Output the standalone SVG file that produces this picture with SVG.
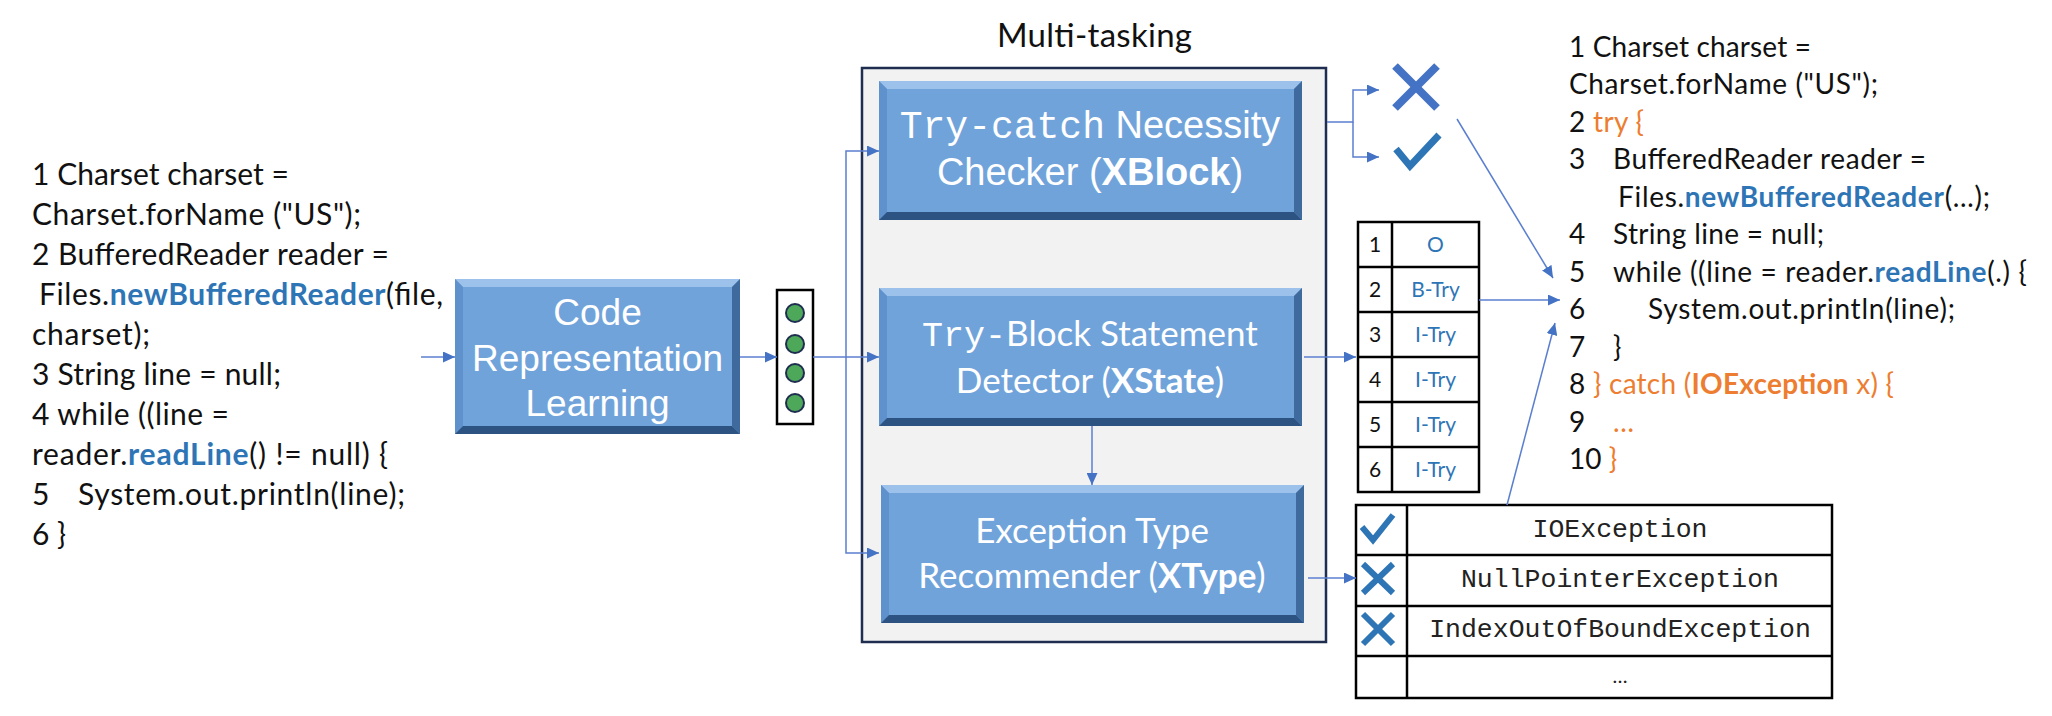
<svg xmlns="http://www.w3.org/2000/svg" width="2052" height="716" viewBox="0 0 2052 716">
<style>
.code{font-family:Lato,"Open Sans",sans-serif;font-size:30px;fill:#111}
.rcode{font-family:Lato,"Open Sans",sans-serif;font-size:28px;fill:#111}
.b{font-weight:bold;fill:#2E75B6}
.o{fill:#ED7D31}
.ob{fill:#ED7D31;font-weight:bold}
.face{fill:#71A3DB}
.bt{fill:#9CC2EC}
.bl{fill:#5F92CC}
.br{fill:#3E6A9E}
.bb{fill:#2C5382}
.bx{font-family:"Liberation Sans",Arial,sans-serif;font-size:37px;fill:#fff;text-anchor:middle}
.bxc{font-family:Lato,"Open Sans",sans-serif;font-size:35px;fill:#fff;text-anchor:middle}
.mono{font-family:"Liberation Mono","Courier New",monospace}
.conn{fill:none;stroke:#5B7FCF;stroke-width:1.5}
.tb{fill:#fff;stroke:#000;stroke-width:2.5}
.tl{stroke:#000;stroke-width:2.5}
.num{font-family:Lato,sans-serif;font-size:21px;fill:#111;text-anchor:middle}
.lab{font-family:Lato,sans-serif;font-size:21px;fill:#2E75B6;text-anchor:middle}
.exc{font-family:"Liberation Mono","Courier New",monospace;font-size:26.5px;fill:#222;text-anchor:middle}
.xm{stroke:#4472C4;stroke-width:8;fill:none}
.ck{stroke:#2E75B6;stroke-width:7;fill:none}
</style>
<defs>
<marker id="ah" markerUnits="userSpaceOnUse" markerWidth="12" markerHeight="11" refX="12" refY="5.5" orient="auto">
<path d="M0,0 L12,5.5 L0,11 z" fill="#4472C4"/>
</marker>
</defs>
<rect width="2052" height="716" fill="#fff"/>

<g id="input-code">
<text class="code" x="32" y="185" textLength="257" lengthAdjust="spacing">1 Charset charset =</text>
<text class="code" x="32" y="225" textLength="329" lengthAdjust="spacing">Charset.forName (&quot;US&quot;);</text>
<text class="code" x="32" y="265" textLength="357" lengthAdjust="spacing">2 BufferedReader reader =</text>
<text class="code" x="39" y="305" textLength="404" lengthAdjust="spacing">Files.<tspan class="b">newBufferedReader</tspan>(file,</text>
<text class="code" x="32" y="345" textLength="118" lengthAdjust="spacing">charset);</text>
<text class="code" x="32" y="385" textLength="249" lengthAdjust="spacing">3 String line = null;</text>
<text class="code" x="32" y="425" textLength="197" lengthAdjust="spacing">4 while ((line =</text>
<text class="code" x="32" y="465" textLength="356" lengthAdjust="spacing">reader.<tspan class="b">readLine</tspan>() != null) {</text>
<text class="code" x="32" y="505">5</text>
<text class="code" x="78" y="505" textLength="327" lengthAdjust="spacing">System.out.println(line);</text>
<text class="code" x="32" y="545">6 }</text>
</g>

<g id="crl">
<rect class="face" x="455" y="279" width="285" height="155"/>
<polygon class="bt" points="455,279 740,279 732,287 463,287"/>
<polygon class="bl" points="455,279 463,287 463,426 455,434"/>
<polygon class="br" points="740,279 740,434 732,426 732,287"/>
<polygon class="bb" points="455,434 463,426 732,426 740,434"/>
<text class="bx" x="597.5" y="325">Code</text>
<text class="bx" x="597.5" y="371">Representation</text>
<text class="bx" x="597.5" y="416">Learning</text>
</g>

<g id="vector">
<rect x="777" y="290" width="36" height="134" fill="#fff" stroke="#000" stroke-width="2.5"/>
<circle cx="795" cy="313" r="9" fill="#4EA85A" stroke="#1F2D50" stroke-width="2"/>
<circle cx="795" cy="344" r="9" fill="#4EA85A" stroke="#1F2D50" stroke-width="2"/>
<circle cx="795" cy="373" r="9" fill="#4EA85A" stroke="#1F2D50" stroke-width="2"/>
<circle cx="795" cy="403" r="9" fill="#4EA85A" stroke="#1F2D50" stroke-width="2"/>
</g>

<g id="multitask">
<text x="997" y="47" font-family="Lato,'Open Sans',sans-serif" font-size="33" fill="#111" textLength="195" lengthAdjust="spacing">Multi-tasking</text>
<rect x="862" y="68" width="464" height="574" fill="#F2F2F2" stroke="#1F2D50" stroke-width="2.5"/>
</g>

<g id="xblock">
<rect class="face" x="879" y="81" width="423" height="139"/>
<polygon class="bt" points="879,81 1302,81 1294,89 887,89"/>
<polygon class="bl" points="879,81 887,89 887,212 879,220"/>
<polygon class="br" points="1302,81 1302,220 1294,212 1294,89"/>
<polygon class="bb" points="879,220 887,212 1294,212 1302,220"/>
<text class="bx" x="1090" y="138" style="font-size:38px"><tspan class="mono">Try-catch</tspan> Necessity</text>
<text class="bx" x="1090" y="185" style="font-size:38px">Checker (<tspan font-weight="bold">XBlock</tspan>)</text>
</g>

<g id="xstate">
<rect class="face" x="879" y="288" width="423" height="138"/>
<polygon class="bt" points="879,288 1302,288 1294,296 887,296"/>
<polygon class="bl" points="879,288 887,296 887,418 879,426"/>
<polygon class="br" points="1302,288 1302,426 1294,418 1294,296"/>
<polygon class="bb" points="879,426 887,418 1294,418 1302,426"/>
<text class="bxc" x="1090" y="346"><tspan class="mono">Try-</tspan>Block Statement</text>
<text class="bxc" x="1090" y="393">Detector (<tspan font-weight="bold">XState</tspan>)</text>
</g>

<g id="xtype">
<rect class="face" x="881" y="485" width="423" height="138"/>
<polygon class="bt" points="881,485 1304,485 1296,493 889,493"/>
<polygon class="bl" points="881,485 889,493 889,615 881,623"/>
<polygon class="br" points="1304,485 1304,623 1296,615 1296,493"/>
<polygon class="bb" points="881,623 889,615 1296,615 1304,623"/>
<text class="bxc" x="1092" y="543">Exception Type</text>
<text class="bxc" x="1092" y="588">Recommender (<tspan font-weight="bold">XType</tspan>)</text>
</g>

<g id="xblock-output">
<line class="xm" x1="1395" y1="66" x2="1437" y2="108"/>
<line class="xm" x1="1437" y1="66" x2="1395" y2="108"/>
<polyline class="ck" points="1396,149 1410,166 1439,135"/>
</g>

<g id="label-table">
<rect class="tb" x="1358" y="222" width="121" height="270"/>
<line class="tl" x1="1392" y1="222" x2="1392" y2="492"/>
<line class="tl" x1="1358" y1="267" x2="1479" y2="267"/>
<line class="tl" x1="1358" y1="312" x2="1479" y2="312"/>
<line class="tl" x1="1358" y1="357" x2="1479" y2="357"/>
<line class="tl" x1="1358" y1="402" x2="1479" y2="402"/>
<line class="tl" x1="1358" y1="447" x2="1479" y2="447"/>
<text class="num" x="1375" y="252">1</text><text class="lab" x="1435.5" y="252">O</text>
<text class="num" x="1375" y="297">2</text><text class="lab" x="1435.5" y="297">B-Try</text>
<text class="num" x="1375" y="342">3</text><text class="lab" x="1435.5" y="342">I-Try</text>
<text class="num" x="1375" y="387">4</text><text class="lab" x="1435.5" y="387">I-Try</text>
<text class="num" x="1375" y="432">5</text><text class="lab" x="1435.5" y="432">I-Try</text>
<text class="num" x="1375" y="477">6</text><text class="lab" x="1435.5" y="477">I-Try</text>
</g>

<g id="exception-table">
<rect class="tb" x="1356" y="505" width="476" height="193"/>
<line class="tl" x1="1407" y1="505" x2="1407" y2="698"/>
<line class="tl" x1="1356" y1="555" x2="1832" y2="555"/>
<line class="tl" x1="1356" y1="606" x2="1832" y2="606"/>
<line class="tl" x1="1356" y1="656" x2="1832" y2="656"/>
<text class="exc" x="1620" y="537">IOException</text>
<text class="exc" x="1620" y="587">NullPointerException</text>
<text class="exc" x="1620" y="637">IndexOutOfBoundException</text>
<text x="1620" y="683" font-family="Lato,sans-serif" font-size="20" fill="#222" text-anchor="middle">…</text>
<polyline class="ck" style="stroke-width:6" points="1362,527 1373,540 1393,515"/>
<line class="ck" style="stroke-width:6" x1="1363" y1="564" x2="1393" y2="593"/>
<line class="ck" style="stroke-width:6" x1="1393" y1="564" x2="1363" y2="593"/>
<line class="ck" style="stroke-width:6" x1="1363" y1="614" x2="1393" y2="644"/>
<line class="ck" style="stroke-width:6" x1="1393" y1="614" x2="1363" y2="644"/>
</g>

<g id="output-code">
<text class="rcode" x="1569" y="57" textLength="242" lengthAdjust="spacing">1 Charset charset =</text>
<text class="rcode" x="1569" y="94" textLength="309" lengthAdjust="spacing">Charset.forName (&quot;US&quot;);</text>
<text class="rcode" x="1569" y="132" textLength="75" lengthAdjust="spacing">2 <tspan class="o">try {</tspan></text>
<text class="rcode" x="1569" y="169">3</text>
<text class="rcode" x="1613" y="169" textLength="313" lengthAdjust="spacing">BufferedReader reader =</text>
<text class="rcode" x="1618" y="207" textLength="372" lengthAdjust="spacing">Files.<tspan class="b">newBufferedReader</tspan>(…);</text>
<text class="rcode" x="1569" y="244">4</text>
<text class="rcode" x="1613" y="244" textLength="211" lengthAdjust="spacing">String line = null;</text>
<text class="rcode" x="1569" y="282">5</text>
<text class="rcode" x="1613" y="282" textLength="414" lengthAdjust="spacing">while ((line = reader.<tspan class="b">readLine</tspan>(.) {</text>
<text class="rcode" x="1569" y="319">6</text>
<text class="rcode" x="1648" y="319" textLength="307" lengthAdjust="spacing">System.out.println(line);</text>
<text class="rcode" x="1569" y="357">7<tspan x="1613">}</tspan></text>
<text class="rcode" x="1569" y="394" textLength="325" lengthAdjust="spacing">8 <tspan class="o">} catch (</tspan><tspan class="ob">IOException</tspan><tspan class="o"> x) {</tspan></text>
<text class="rcode" x="1569" y="432">9<tspan x="1613" class="o">…</tspan></text>
<text class="rcode" x="1569" y="469">10 <tspan class="o">}</tspan></text>
</g>

<g id="connectors">
<path class="conn" d="M421,357 L455,357" marker-end="url(#ah)"/>
<path class="conn" d="M740,357 L777,357" marker-end="url(#ah)"/>
<path class="conn" d="M813,357 L879,357" marker-end="url(#ah)"/>
<path class="conn" d="M846,357 L846,151 L879,151" marker-end="url(#ah)"/>
<path class="conn" d="M846,357 L846,553 L879,553" marker-end="url(#ah)"/>
<path class="conn" d="M1327,122 L1353,122 L1353,90 L1379,90" marker-end="url(#ah)"/>
<path class="conn" d="M1353,122 L1353,157 L1379,157" marker-end="url(#ah)"/>
<path class="conn" d="M1092,426 L1092,485" marker-end="url(#ah)"/>
<path class="conn" d="M1304,357 L1356,357" marker-end="url(#ah)"/>
<path class="conn" d="M1308,578 L1356,578" marker-end="url(#ah)"/>
<path class="conn" d="M1457,119 L1553,278" marker-end="url(#ah)"/>
<path class="conn" d="M1479,300 L1560,300" marker-end="url(#ah)"/>
<path class="conn" d="M1507,505 L1555,323" marker-end="url(#ah)"/>
</g>
</svg>
